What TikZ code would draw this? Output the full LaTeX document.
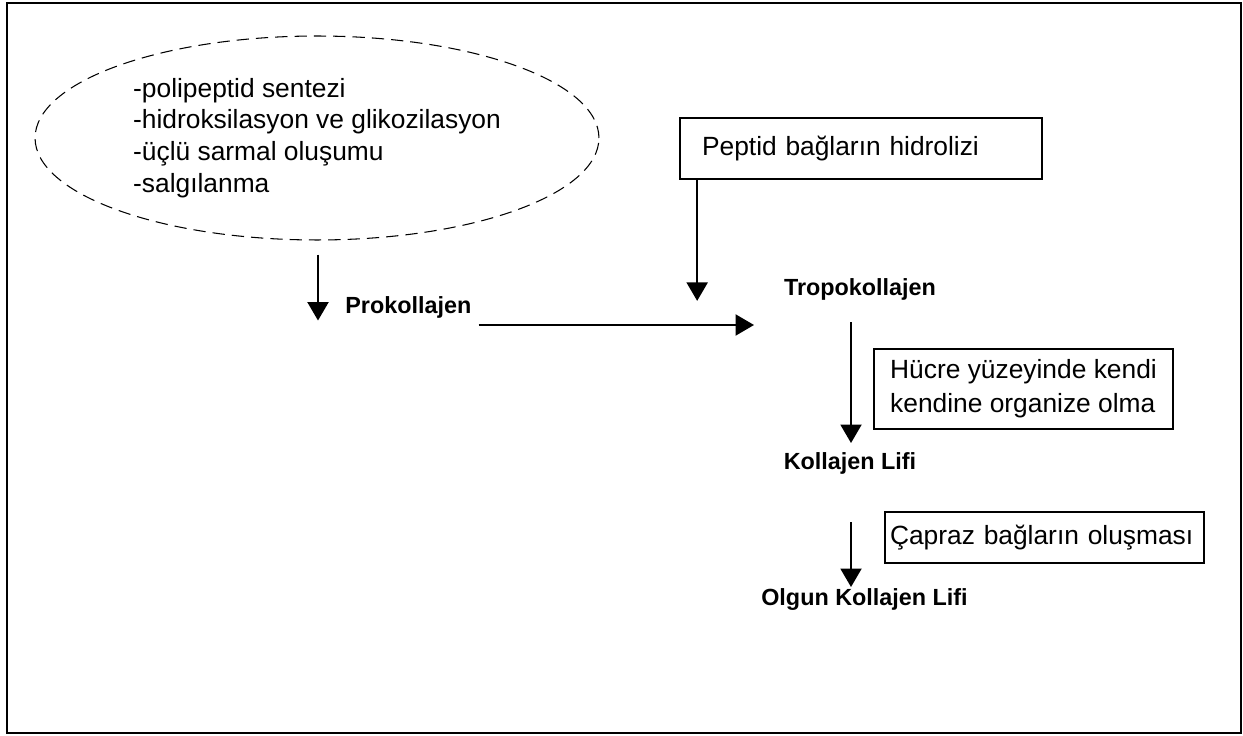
\documentclass[tikz,border=0pt]{standalone}
\usepackage{fontspec}
\setmainfont{Liberation Sans}
\usetikzlibrary{
  positioning,
  calc,
  arrows.meta,
  shapes.geometric
}
\tikzstyle{ok}=[-{Triangle[length=10.5pt,width=12pt]}, line width=1pt]
\tikzstyle{kutu}=[draw, line width=1pt, rectangle, align=left, font=\fontsize{15}{19.3}\selectfont]
\tikzstyle{etiket}=[inner sep=0pt, font=\fontsize{13.3}{16}\selectfont\bfseries]
\tikzstyle{balon}=[draw, ellipse, line width=0.6pt, dash pattern=on 7pt off 4pt, inner sep=0pt, align=left, font=\fontsize{15}{18}\selectfont]

\begin{document}
\begin{tikzpicture}[x=0.02cm, y=-0.02cm]
    \useasboundingbox (0,0) rectangle (1243,736);

    % dis cerceve
    \draw[line width=1.1pt] (7,3) rectangle (1241,733);

    % hucre ici olaylar
    \node[balon, minimum width=11.28cm, minimum height=4.08cm] (sentez) at (317,138)
      {-polipeptid sentezi\\-hidroksilasyon ve glikozilasyon\\-üçlü sarmal oluşumu\\-salgılanma};

    % ara urunler
    \node[etiket, anchor=west] (pro) at (345,307) {Prokollajen};
    \node[etiket] (tropo) at (860,289) {Tropokollajen};
    \node[etiket] (lif) at (850,463) {Kollajen Lifi};
    \node[etiket] (olgun) at (864.5,600) {Olgun Kollajen Lifi};

    % enzim ve olay kutulari
    \node[kutu, minimum width=7.24cm, minimum height=1.22cm, text width=6.36cm, inner xsep=0.44cm] (hidroliz) at (861,148.5) {Peptid bağların hidrolizi};
    \node[kutu, minimum width=5.98cm, minimum height=1.6cm] (organize) at (1023.5,389) {Hücre yüzeyinde kendi\\kendine organize olma};
    \node[kutu, minimum width=6.38cm, minimum height=1.02cm, text width=6.18cm, inner xsep=0.1cm] (capraz) at (1044.5,537.5) {Çapraz bağların oluşması};

    % oklar
    \coordinate (s1) at ($(sentez.south)+(1,14)$);
    \coordinate (p1) at ($(pro.east)+(7,18)$);
    \coordinate (h1) at ($(hidroliz.south west)+(18,0)$);
    \coordinate (t1) at (851,322);
    \coordinate (l1) at (851,522);

    \draw[ok] (s1) -- ++(0,66);
    \draw[ok] (p1) -- (754,325);
    \draw[ok] (h1) -- ++(0,121);
    \draw[ok] (t1) -- ++(0,121);
    \draw[ok] (l1) -- ++(0,65);
\end{tikzpicture}
\end{document}
